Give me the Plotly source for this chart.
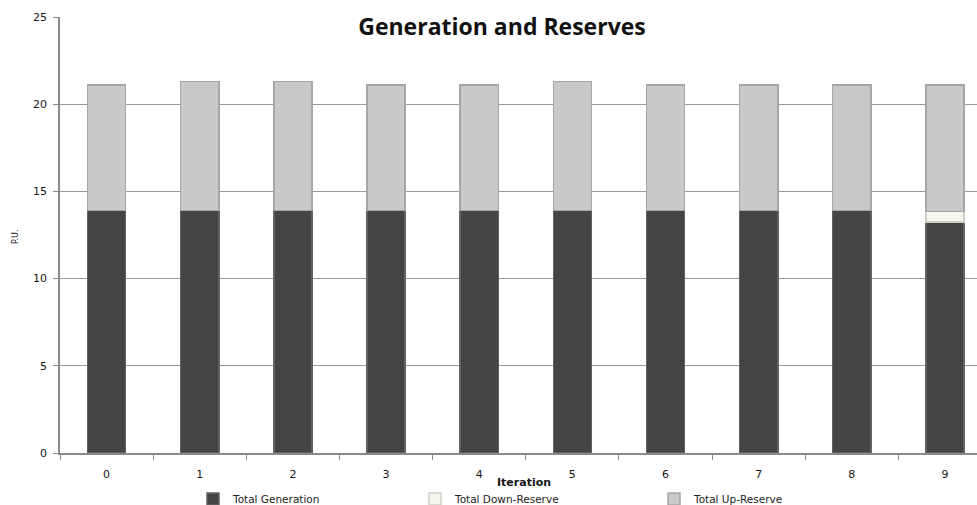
import plotly.graph_objects as go

# Iterations and stacked components (per unit)
iterations = ["0", "1", "2", "3", "4", "5", "6", "7", "8", "9"]
total_generation = [13.9, 13.9, 13.9, 13.9, 13.9, 13.9, 13.9, 13.9, 13.9, 13.25]
total_down_reserve = [0, 0, 0, 0, 0, 0, 0, 0, 0, 0.6]
total_up_reserve = [7.2, 7.4, 7.4, 7.2, 7.2, 7.4, 7.2, 7.2, 7.2, 7.25]

W, H = 977, 505
ML, MR, MT, MB = 60, 0, 17, 52
plot_w = W - ML - MR

tick_font = dict(family="DejaVu Sans", size=11, color="#151515")
legend_font = dict(family="DejaVu Sans", size=10.5, color="#222222")


def px_to_paper_x(px):
    return (px - ML) / plot_w


fig = go.Figure()
fig.add_trace(go.Bar(
    x=iterations, y=total_generation, name="Total Generation", legend="legend",
    marker=dict(color="#444444", line=dict(color="#626262", width=1.5)),
))
fig.add_trace(go.Bar(
    x=iterations, y=total_down_reserve, name="Total Down-Reserve", legend="legend2",
    marker=dict(color="#f6f5ee", line=dict(color="#cfcfc6", width=1.5)),
))
fig.add_trace(go.Bar(
    x=iterations, y=total_up_reserve, name="Total Up-Reserve", legend="legend3",
    marker=dict(color="#c9c9c9", line=dict(color="#a6a6a6", width=1.5)),
))

legend_common = dict(orientation="h", yref="container", y=(H - 499) / H,
                     yanchor="middle", xanchor="left", font=legend_font,
                     bgcolor="rgba(0,0,0,0)", itemwidth=30)

fig.update_layout(
    barmode="stack",
    bargap=0.59,
    width=W, height=H,
    margin=dict(l=ML, r=MR, t=MT, b=MB, autoexpand=False),
    paper_bgcolor="white", plot_bgcolor="white",
    title=dict(text="<b>Generation and Reserves</b>", xref="paper",
               x=px_to_paper_x(502), xanchor="center",
               yref="container", y=1 - 27 / H, yanchor="middle",
               font=dict(family="Open Sans", size=23, color="#111111")),
    showlegend=True,
    legend=dict(legend_common, x=px_to_paper_x(193)),
    legend2=dict(legend_common, x=px_to_paper_x(415)),
    legend3=dict(legend_common, x=px_to_paper_x(654)),
    xaxis=dict(
        range=[-0.5, 9.344], tickfont=tick_font,
        showline=True, linecolor="#8a8a8a", linewidth=1.5,
        ticks="outside", ticklen=5, tickcolor="#8a8a8a", tickson="boundaries",
        ticklabelstandoff=10,
        showgrid=False,
    ),
    yaxis=dict(
        range=[0, 25], dtick=5, tickfont=tick_font,
        showline=True, linecolor="#8a8a8a", linewidth=1.5,
        ticks="outside", ticklen=5, tickcolor="#8a8a8a",
        ticklabelstandoff=4,
        showgrid=True, gridcolor="#999999", gridwidth=1.2,
        zeroline=False,
    ),
    annotations=[
        dict(text="<b>Iteration</b>", xref="x", x=4.48, yref="paper",
             y=(453 - 482) / (H - MT - MB), xanchor="center", yanchor="middle",
             showarrow=False, font=dict(family="DejaVu Sans", size=11, color="#151515")),
        dict(text="P.U.", xref="paper", x=px_to_paper_x(15), yref="paper",
             y=(453 - 237) / (H - MT - MB), xanchor="center", yanchor="middle",
             textangle=-90, showarrow=False,
             font=dict(family="DejaVu Sans", size=8, color="#151515")),
    ],
)

fig.write_html("out.html")
